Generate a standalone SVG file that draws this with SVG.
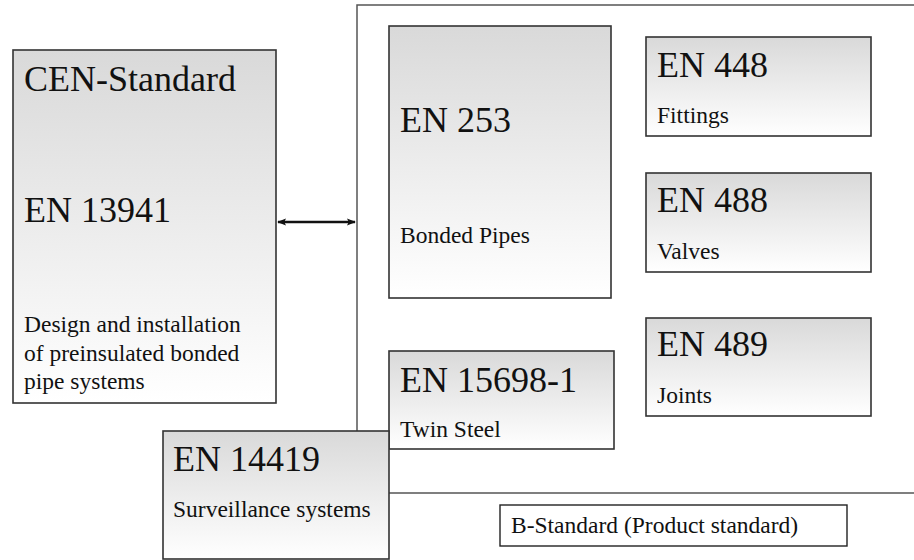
<svg xmlns="http://www.w3.org/2000/svg" width="914" height="560" viewBox="0 0 914 560">
  <defs>
    <linearGradient id="shade" x1="0" y1="0" x2="0" y2="1">
      <stop offset="0" stop-color="#d9d9d9"/>
      <stop offset="1" stop-color="#ffffff"/>
    </linearGradient>
    <marker id="head" viewBox="0 0 10 10" refX="9" refY="5" markerWidth="9" markerHeight="9" orient="auto-start-reverse" markerUnits="userSpaceOnUse">
      <path d="M0,1 L10,5 L0,9 L2,5 Z" fill="#111"/>
    </marker>
  </defs>
  <style>
    .box { fill: url(#shade); stroke: #333; stroke-width: 1.6; }
    .plain { fill: #fff; stroke: #222; stroke-width: 1.4; }
    .frame { fill: none; stroke: #555; stroke-width: 1.5; }
    text { font-family: 'Liberation Serif', 'Times New Roman', Times, 'DejaVu Serif', serif; fill: #111; }
    .big { font-size: 36px; }
    .small { font-size: 23.5px; }
    .link { stroke: #111; stroke-width: 2.4; fill: none; }
  </style>
  <rect width="914" height="560" fill="#fff"/>

  <!-- product-standard frame -->
  <path class="frame" d="M914,5 H357 V431 M389,493 H914"/>

  <g id="cen">
    <rect class="box" x="13" y="50" width="263" height="353"/>
    <text class="big" x="24" y="91">CEN-Standard</text>
    <text class="big" x="24" y="222">EN 13941</text>
    <text class="small" x="24" y="332">Design and installation</text>
    <text class="small" x="24" y="361">of preinsulated bonded</text>
    <text class="small" x="24" y="389">pipe systems</text>
  </g>

  <g id="en253">
    <rect class="box" x="389" y="26" width="222" height="272"/>
    <text class="big" x="400" y="132">EN 253</text>
    <text class="small" x="400" y="243">Bonded Pipes</text>
  </g>

  <g id="en448">
    <rect class="box" x="646" y="37" width="225" height="99"/>
    <text class="big" x="657" y="77">EN 448</text>
    <text class="small" x="657" y="123">Fittings</text>
  </g>

  <g id="en488">
    <rect class="box" x="646" y="173" width="225" height="99"/>
    <text class="big" x="657" y="212">EN 488</text>
    <text class="small" x="657" y="259">Valves</text>
  </g>

  <g id="en489">
    <rect class="box" x="646" y="318" width="225" height="98"/>
    <text class="big" x="657" y="356">EN 489</text>
    <text class="small" x="657" y="403">Joints</text>
  </g>

  <g id="en15698">
    <rect class="box" x="389" y="351" width="225" height="98"/>
    <text class="big" x="400" y="392">EN 15698-1</text>
    <text class="small" x="400" y="437">Twin Steel</text>
  </g>

  <g id="en14419">
    <rect class="box" x="163" y="431" width="226" height="128"/>
    <text class="big" x="173" y="471">EN 14419</text>
    <text class="small" x="173" y="517">Surveillance systems</text>
  </g>

  <g id="bstandard">
    <rect class="plain" x="500" y="505" width="347" height="41"/>
    <text class="small" x="511" y="533">B-Standard (Product standard)</text>
  </g>

  <g id="connectors">
    <line class="link" x1="278" y1="222" x2="355" y2="222" marker-start="url(#head)" marker-end="url(#head)"/>
  </g>
</svg>
